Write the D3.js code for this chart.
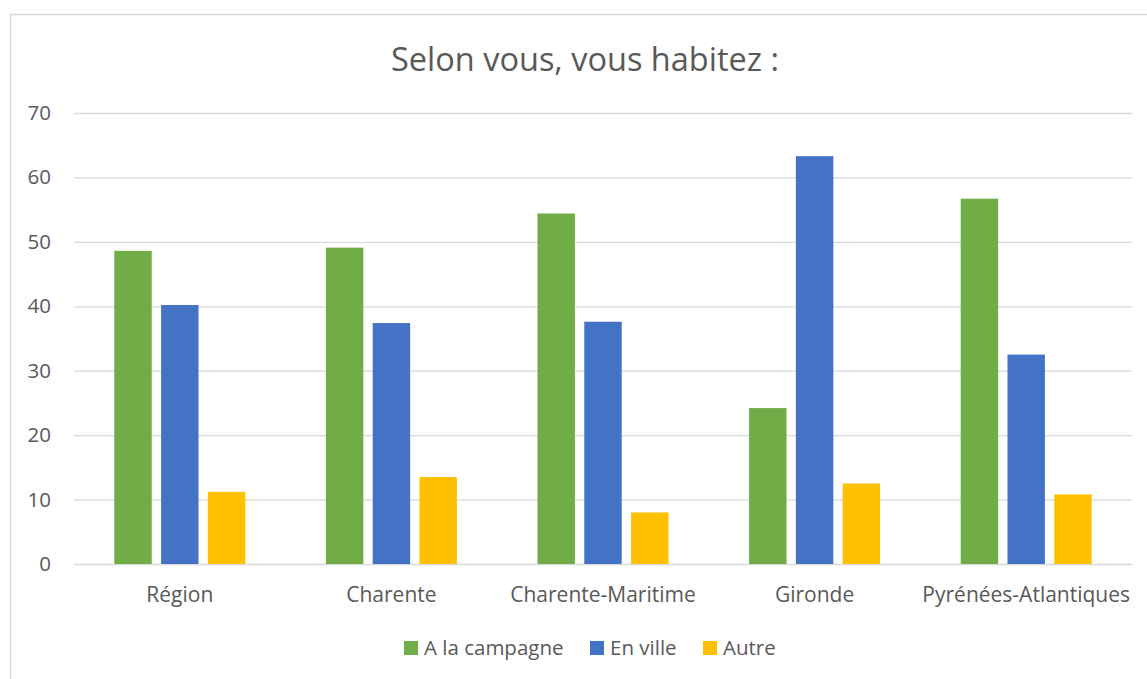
<!DOCTYPE html>
<html>
<head>
<meta charset="utf-8">
<script src="https://cdn.jsdelivr.net/npm/d3@7"></script>
<style>
  body { margin: 0; background: #fff; }
  text { font-family: "Open Sans", sans-serif; fill: #595959; }
</style>
</head>
<body>
<div id="chart"></div>
<script>
// data
var categories = ["Région", "Charente", "Charente-Maritime", "Gironde", "Pyrénées-Atlantiques"];
var seriesNames = ["A la campagne", "En ville", "Autre"];
var campagne = [48.6, 49.1, 54.4, 24.2, 56.7];
var ville = [40.2, 37.4, 37.6, 63.3, 32.5];
var autre = [11.2, 13.5, 8.0, 12.5, 10.8];
var yTicks = [0, 10, 20, 30, 40, 50, 60, 70];
var colors = ["#70AD47", "#4472C4", "#FFC000"];

var W = 1147, H = 679;
var margin = {top: 113, left: 74},
    width = 1132 - margin.left,
    height = 564 - margin.top;

var svg = d3.select("#chart").append("svg")
    .attr("width", W)
    .attr("height", H);

// chart frame
svg.append("rect")
    .attr("x", 10.5).attr("y", 14.5)
    .attr("width", W + 20).attr("height", H + 20)
    .attr("fill", "none")
    .attr("stroke", "#D9D9D9")
    .attr("stroke-width", 1.5);

// title
svg.append("text")
    .attr("x", 585).attr("y", 71)
    .attr("text-anchor", "middle")
    .style("font-size", "32.5px")
    .text("Selon vous, vous habitez :");

var g = svg.append("g")
    .attr("transform", "translate(" + margin.left + "," + margin.top + ")");

var x = d3.scaleBand()
    .domain(categories)
    .range([0, width]);

var sub = d3.scaleBand()
    .domain(seriesNames)
    .range([0, 131])
    .paddingInner(0.2);

var y = d3.scaleLinear()
    .domain([0, 70])
    .range([height, 0]);

// gridlines + y labels
g.append("g")
    .call(d3.axisLeft(y).tickValues(yTicks).tickSize(-width).tickPadding(23))
    .call(function(a) {
      a.select(".domain").remove();
      a.selectAll("line").attr("stroke", "#D9D9D9").attr("stroke-width", 1.3);
      a.selectAll("text").style("font-size", "20.5px").attr("fill", "#595959");
    });

var series = [campagne, ville, autre];
series.forEach(function(vals, s) {
  g.selectAll(".bar" + s)
    .data(vals)
    .enter().append("rect")
      .attr("x", function(d, i) { return x(categories[i]) + (x.bandwidth() - 131) / 2 + sub(seriesNames[s]); })
      .attr("y", function(d) { return y(d); })
      .attr("width", sub.bandwidth())
      .attr("height", function(d) { return height - y(d); })
      .attr("fill", colors[s]);
});

// x labels
g.append("g")
    .attr("transform", "translate(0," + height + ")")
    .call(d3.axisBottom(x).tickSize(0).tickPadding(23))
    .call(function(a) {
      a.select(".domain").remove();
      a.selectAll("text").style("font-size", "21px").attr("fill", "#595959");
    });

// legend
var legendX = [404, 590, 703];
var legend = svg.append("g");
seriesNames.forEach(function(name, i) {
  legend.append("rect")
    .attr("x", legendX[i]).attr("y", 641)
    .attr("width", 14).attr("height", 14)
    .attr("fill", colors[i]);
  legend.append("text")
    .attr("x", legendX[i] + 20).attr("y", 655)
    .style("font-size", "20.5px")
    .text(name);
});
</script>
</body>
</html>
